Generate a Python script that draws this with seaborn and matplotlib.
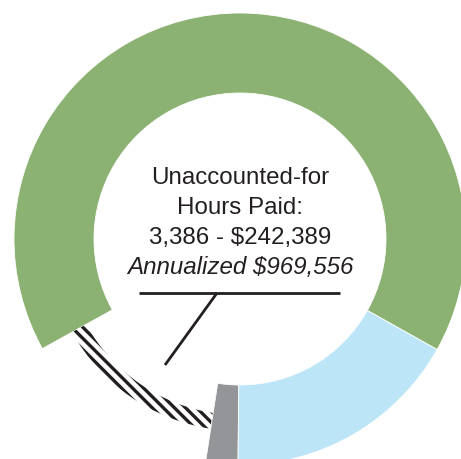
import matplotlib
matplotlib.use("Agg")
import matplotlib.pyplot as plt
import seaborn as sns

# ---- data (shares of the ring, counter-clockwise) ----
categories = ["Accounted-for hours", "Unaccounted-for hours paid", "Other", "Remaining"]
shares = [66.2, 14.5, 2.3, 17.0]
colors = ["#8cb273", "#ffffff", "#939598", "#bde5f8"]
center_lines = ["Unaccounted-for", "Hours Paid:", "3,386 - $242,389", "Annualized $969,556"]

sns.set_style("white")
plt.rcParams["font.family"] = ["Liberation Sans", "DejaVu Sans"]
plt.rcParams["hatch.linewidth"] = 2.4

W, H = 461, 459
fig = plt.figure(figsize=(W / 100, H / 100), dpi=100)
ax = fig.add_axes([0, 0, 1, 1])

cx, cy = 240, H - 239
wedges, _ = ax.pie(
    shares,
    colors=colors,
    startangle=-29.3,
    counterclock=True,
    radius=226,
    center=(cx, cy),
    wedgeprops=dict(width=80, edgecolor="white", linewidth=0.6),
)

# hatched slice drawn as a thin band in the middle of the ring
hw = wedges[1]
hw.set_radius(192)
hw.set_width(16)
hw.set_facecolor("white")
hw.set_edgecolor("#231f20")
hw.set_linewidth(0)
hw.set_hatch(chr(92) * 3)

ax.set_xlim(0, W)
ax.set_ylim(0, H)
ax.set_aspect("equal")
ax.axis("off")

# center text
baselines = [184, 214, 244, 274]
for i, (txt, yb) in enumerate(zip(center_lines, baselines)):
    ax.text(cx, H - yb, txt, ha="center", va="baseline", fontsize=17.4,
            color="#231f20", style="italic" if i == 3 else "normal")

# callout lines
ax.plot([139, 340], [H - 293, H - 293], color="#231f20", lw=2.0, solid_capstyle="butt")
ax.plot([217, 165], [H - 293, H - 365], color="#231f20", lw=2.0, solid_capstyle="butt")

fig.savefig("out.png", dpi=100)
